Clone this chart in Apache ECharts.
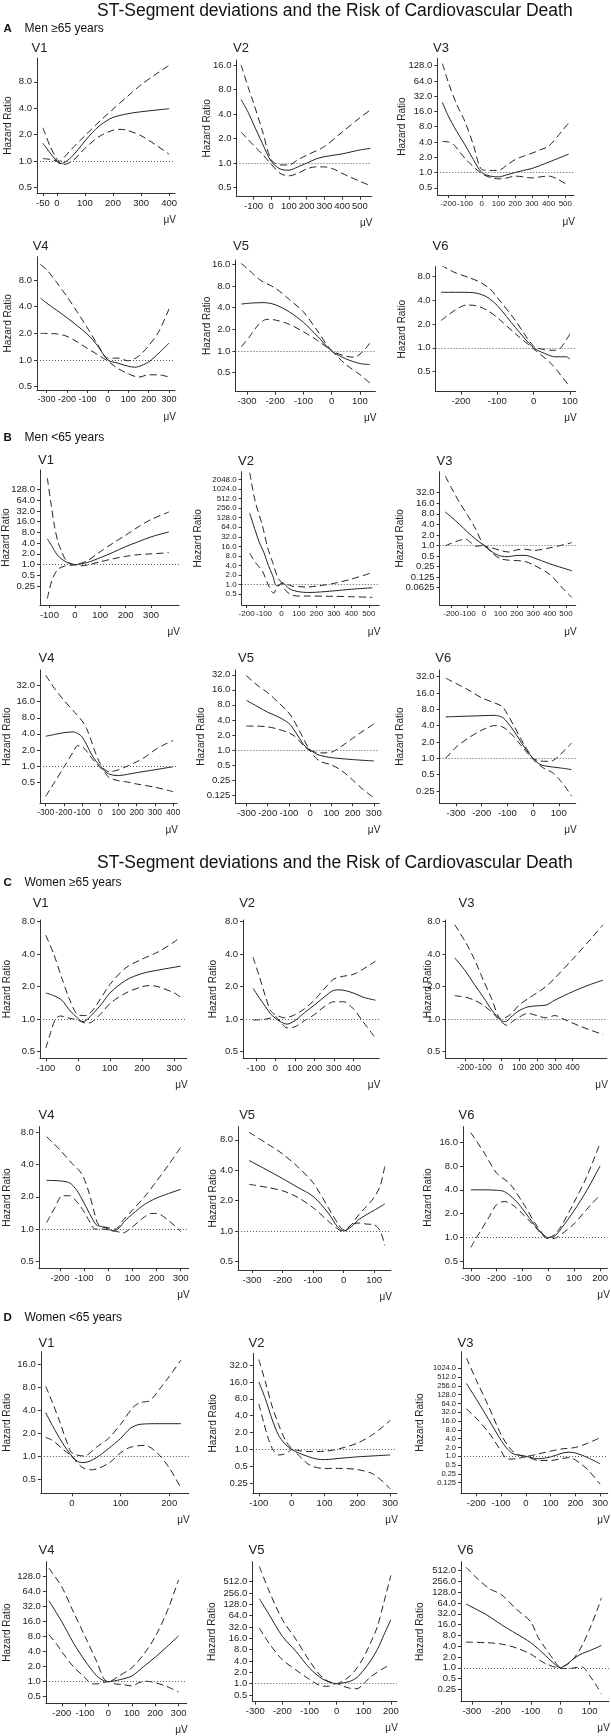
<!DOCTYPE html>
<html>
<head>
<meta charset="utf-8">
<script src="https://cdn.jsdelivr.net/npm/echarts@6/dist/echarts.min.js"></script>
<style>
  html, body { margin: 0; padding: 0; background: #fff; }
  #chart { width: 611px; height: 1736px; }
</style>
</head>
<body>
<div id="chart"></div>
<script>
// ---- data: [ST deviation (uV), hazard ratio] ----
// A  Men >=65
const a1Est = [[-50,1.6],[-25,1.25],[0,1.0],[10,0.94],[25,0.96],[50,1.1],[75,1.35],[100,1.7],[125,2.1],[150,2.5],[175,2.85],[200,3.15],[250,3.45],[300,3.65],[350,3.8],[400,3.95]];
const a1Lo  = [[-50,1.07],[-25,1.05],[0,1.0],[25,0.92],[50,0.98],[75,1.15],[100,1.4],[150,1.9],[200,2.25],[225,2.3],[250,2.25],[300,1.95],[350,1.55],[400,1.2]];
const a1Hi  = [[-50,2.4],[-25,1.5],[0,1.05],[10,1.0],[25,1.1],[50,1.35],[100,1.95],[150,2.8],[200,3.9],[250,5.4],[300,7.4],[350,9.6],[400,12.3]];
const a2Est = [[-170,6.0],[-130,4.2],[-100,3.0],[-50,1.75],[0,1.05],[50,0.85],[100,0.82],[150,0.9],[200,1.0],[250,1.12],[300,1.2],[400,1.3],[500,1.45],[560,1.52]];
const a2Lo  = [[-170,2.4],[-100,1.66],[-50,1.29],[0,0.97],[50,0.75],[100,0.7],[150,0.75],[200,0.85],[250,0.9],[300,0.9],[350,0.85],[400,0.75],[500,0.6],[560,0.53]];
const a2Hi  = [[-170,16],[-130,8.5],[-100,5.5],[-50,2.5],[0,1.1],[50,0.95],[100,0.95],[150,1.1],[200,1.25],[300,1.6],[400,2.4],[500,3.6],[560,4.5]];
const a3Est = [[-235,24],[-200,13],[-150,6.5],[-100,3.5],[-50,1.8],[0,1.0],[50,0.85],[100,0.82],[150,0.9],[200,1.0],[250,1.1],[300,1.2],[400,1.6],[520,2.3]];
const a3Lo  = [[-235,4.1],[-200,4.0],[-170,3.6],[-130,2.5],[-100,1.9],[-50,1.3],[0,0.95],[50,0.8],[100,0.75],[150,0.78],[200,0.85],[250,0.82],[300,0.78],[350,0.82],[400,0.85],[450,0.75],[520,0.55]];
const a3Hi  = [[-235,140],[-200,60],[-150,22],[-100,10],[-50,3.5],[0,1.15],[50,1.1],[100,1.1],[150,1.4],[200,1.8],[250,2.1],[300,2.4],[350,2.8],[400,3.3],[450,5],[520,9.5]];
const a4Est = [[-330,5.0],[-300,4.4],[-200,3.0],[-100,1.95],[-50,1.45],[0,1.0],[50,0.92],[100,0.85],[130,0.83],[150,0.84],[200,0.95],[250,1.2],[300,1.55]];
const a4Lo  = [[-330,2.0],[-250,1.97],[-200,1.85],[-150,1.6],[-100,1.35],[-50,1.15],[0,0.97],[50,0.8],[100,0.7],[150,0.64],[200,0.68],[250,0.68],[300,0.64]];
const a4Hi  = [[-330,12],[-300,10.5],[-250,7.5],[-200,5.2],[-150,3.5],[-100,2.3],[-50,1.5],[0,1.05],[50,1.05],[100,0.98],[150,1.1],[200,1.45],[250,2.1],[300,3.8]];
const a5Est = [[-320,4.5],[-280,4.65],[-240,4.7],[-200,4.4],[-150,3.5],[-100,2.5],[-50,1.6],[0,1.0],[50,0.78],[100,0.67],[135,0.65]];
const a5Lo  = [[-320,1.15],[-290,1.6],[-260,2.3],[-230,2.75],[-200,2.7],[-150,2.35],[-100,1.85],[-50,1.4],[0,1.0],[50,0.65],[100,0.47],[135,0.36]];
const a5Hi  = [[-320,16.5],[-280,12],[-250,9.5],[-200,7.5],[-150,5.2],[-100,3.5],[-50,1.9],[0,1.02],[50,0.85],[80,0.82],[110,0.98],[135,1.28]];
const a6Est = [[-255,5.0],[-200,5.0],[-160,4.9],[-130,4.4],[-100,3.4],[-50,1.8],[0,1.0],[30,0.85],[60,0.77],[90,0.77],[100,0.72]];
const a6Lo  = [[-255,2.2],[-220,2.9],[-185,3.45],[-160,3.4],[-130,3.0],[-100,2.4],[-50,1.5],[0,0.97],[50,0.62],[100,0.32]];
const a6Hi  = [[-255,11],[-220,9],[-180,7.7],[-150,6.8],[-120,5.5],[-100,4.3],[-50,2.2],[0,1.05],[30,0.95],[60,0.93],[75,1.0],[100,1.5]];
// B  Men <65
const b1Est = [[-108,5.3],[-90,3.3],[-70,1.9],[-50,1.4],[-25,1.1],[0,1.0],[50,1.15],[100,1.56],[150,2.2],[200,3.2],[250,4.4],[300,6.0],[370,8.3]];
const b1Lo  = [[-108,0.11],[-100,0.2],[-85,0.45],[-65,0.75],[-40,0.9],[0,0.97],[25,0.92],[50,0.97],[100,1.2],[150,1.45],[200,1.7],[250,1.9],[300,2.0],[370,2.15]];
const b1Hi  = [[-108,270],[-95,60],[-80,12],[-65,4.0],[-50,2.2],[-40,1.5],[-25,1.15],[0,1.0],[50,1.3],[100,2.3],[150,4.0],[200,6.7],[250,11.5],[300,18.5],[370,30]];
const b2Est = [[-182,175],[-150,50],[-125,20],[-100,10],[-75,4],[-50,1.9],[-30,0.95],[-15,0.95],[0,1.12],[15,1.05],[50,0.72],[100,0.6],[150,0.57],[200,0.58],[300,0.64],[400,0.72],[520,0.8]];
const b2Lo  = [[-182,9.8],[-150,5],[-110,2.7],[-75,0.95],[-55,0.6],[-45,0.54],[-30,0.75],[-10,1.0],[0,1.1],[20,0.7],[50,0.5],[90,0.44],[150,0.44],[300,0.43],[400,0.42],[520,0.4]];
const b2Hi  = [[-182,3300],[-150,400],[-110,74],[-80,15],[-50,4.9],[-20,1.6],[0,1.2],[30,1.05],[60,0.9],[100,0.87],[140,0.85],[200,0.9],[300,1.1],[400,1.5],[520,2.4]];
const b3Est = [[-236,9],[-200,6.5],[-150,4.0],[-100,2.4],[-50,1.5],[0,1.0],[50,0.65],[100,0.5],[150,0.48],[200,0.52],[250,0.52],[300,0.45],[400,0.3],[535,0.19]];
const b3Lo  = [[-236,0.98],[-200,1.15],[-150,1.4],[-110,1.5],[-80,1.2],[-50,0.95],[0,1.0],[50,0.6],[100,0.42],[150,0.38],[200,0.37],[250,0.35],[300,0.28],[400,0.15],[480,0.06],[535,0.033]];
const b3Hi  = [[-236,95],[-200,45],[-150,17],[-100,7.2],[-50,2.9],[-25,1.6],[0,1.0],[50,0.85],[100,0.72],[150,0.65],[200,0.75],[250,0.78],[300,0.72],[400,0.85],[535,1.2]];
const b4Est = [[-300,3.6],[-250,3.9],[-200,4.2],[-150,4.35],[-120,4.0],[-100,3.5],[-75,2.5],[-50,1.7],[-25,1.25],[0,1.0],[25,0.8],[50,0.7],[100,0.66],[150,0.7],[200,0.75],[300,0.85],[400,0.97]];
const b4Lo  = [[-300,0.27],[-250,0.5],[-200,0.95],[-150,1.8],[-125,2.4],[-100,2.3],[-75,1.9],[-50,1.45],[-25,1.15],[0,0.93],[25,0.75],[50,0.6],[100,0.53],[150,0.5],[200,0.46],[300,0.4],[400,0.33]];
const b4Hi  = [[-300,50],[-250,28],[-200,17],[-150,11],[-100,7],[-75,5],[-50,3],[-25,1.7],[0,1.1],[25,0.85],[50,0.78],[100,0.85],[150,1.0],[200,1.2],[250,1.5],[300,2.0],[350,2.5],[400,3.0]];
const b5Est = [[-300,9.8],[-250,7.5],[-200,5.7],[-150,4.6],[-100,3.4],[-75,2.5],[-50,1.7],[-25,1.2],[0,1.0],[25,0.85],[50,0.77],[100,0.7],[200,0.64],[300,0.6]];
const b5Lo  = [[-300,3.0],[-250,3.0],[-200,2.9],[-150,2.6],[-100,2.2],[-75,1.9],[-50,1.5],[-25,1.15],[0,0.95],[25,0.7],[50,0.58],[100,0.5],[150,0.38],[200,0.25],[250,0.16],[300,0.11]];
const b5Hi  = [[-300,31],[-250,20],[-200,14],[-150,9],[-100,5.5],[-75,3.8],[-50,2.4],[-25,1.5],[0,1.0],[50,0.87],[100,0.9],[150,1.2],[200,1.7],[250,2.4],[300,3.3]];
const b6Est = [[-340,5.8],[-300,5.9],[-250,6.0],[-200,6.1],[-150,6.2],[-120,5.7],[-100,4.6],[-75,3.2],[-50,2.1],[-25,1.4],[0,1.0],[25,0.78],[50,0.72],[100,0.67],[150,0.62]];
const b6Lo  = [[-340,1.0],[-300,1.6],[-250,2.4],[-200,3.3],[-150,4.0],[-125,3.9],[-100,3.3],[-75,2.5],[-50,1.8],[-25,1.3],[0,0.95],[25,0.75],[50,0.62],[75,0.55],[100,0.42],[125,0.3],[150,0.2]];
const b6Hi  = [[-340,30],[-300,24],[-250,18],[-200,13],[-150,10.5],[-120,9],[-100,6.5],[-75,4.0],[-50,2.4],[-25,1.5],[0,1.0],[25,0.9],[50,0.88],[75,0.9],[100,1.1],[125,1.45],[150,1.9]];
// C  Women >=65
const c1Est = [[-100,1.75],[-75,1.65],[-50,1.5],[-25,1.2],[0,1.02],[15,0.95],[25,0.97],[50,1.15],[75,1.4],[100,1.75],[150,2.3],[200,2.65],[250,2.85],[320,3.1]];
const c1Lo  = [[-100,0.54],[-85,0.75],[-70,1.0],[-55,1.07],[-25,1.02],[0,0.98],[25,0.92],[40,0.93],[75,1.15],[100,1.4],[150,1.75],[200,2.0],[225,2.05],[250,2.0],[300,1.75],[320,1.6]];
const c1Hi  = [[-100,6.0],[-75,4.0],[-50,2.4],[-25,1.5],[0,1.1],[25,1.08],[50,1.25],[100,2.1],[150,3.0],[200,3.6],[250,4.2],[300,5.2],[320,5.8]];
const c2Est = [[-115,1.93],[-80,1.55],[-50,1.3],[-25,1.12],[0,1.02],[25,0.95],[60,0.9],[100,0.97],[150,1.15],[200,1.35],[250,1.6],[300,1.85],[330,1.87],[400,1.75],[450,1.6],[514,1.5]];
const c2Lo  = [[-115,0.98],[-50,1.0],[0,1.05],[25,0.95],[60,0.83],[100,0.85],[150,0.97],[200,1.1],[250,1.3],[300,1.45],[350,1.45],[400,1.25],[450,0.95],[514,0.67]];
const c2Hi  = [[-115,3.75],[-80,2.4],[-50,1.6],[-25,1.2],[0,1.1],[50,1.03],[100,1.1],[150,1.25],[200,1.5],[250,1.9],[300,2.35],[350,2.5],[400,2.6],[450,2.9],[514,3.45]];
const c3Est = [[-260,3.7],[-200,2.8],[-150,2.1],[-100,1.6],[-50,1.2],[0,0.97],[25,0.95],[50,1.03],[100,1.2],[150,1.3],[200,1.33],[250,1.35],[300,1.5],[400,1.8],[500,2.1],[570,2.3]];
const c3Lo  = [[-260,1.65],[-200,1.6],[-150,1.5],[-100,1.35],[-50,1.15],[0,0.95],[30,0.88],[75,0.98],[150,1.13],[200,1.08],[250,1.03],[300,1.08],[350,1.0],[450,0.85],[570,0.72]];
const c3Hi  = [[-260,7.5],[-200,5.2],[-150,3.6],[-100,2.3],[-50,1.5],[-20,1.1],[0,1.0],[50,1.1],[100,1.35],[150,1.55],[200,1.75],[250,2.0],[300,2.4],[400,3.6],[500,5.5],[570,7.5]];
const c4Est = [[-255,2.85],[-200,2.82],[-160,2.7],[-130,2.3],[-100,1.75],[-70,1.3],[-50,1.1],[-25,1.05],[0,1.0],[20,0.96],[40,1.0],[70,1.2],[100,1.38],[150,1.7],[200,1.95],[250,2.15],[300,2.35]];
const c4Lo  = [[-255,1.15],[-220,1.6],[-190,2.05],[-160,2.05],[-130,1.8],[-100,1.45],[-75,1.15],[-55,1.0],[-25,1.0],[0,0.98],[35,0.95],[60,0.92],[100,1.05],[150,1.3],[180,1.4],[200,1.4],[250,1.2],[300,0.95]];
const c4Hi  = [[-255,7.3],[-200,5.5],[-150,4.1],[-110,3.3],[-80,2.2],[-60,1.5],[-40,1.1],[0,1.03],[30,1.0],[60,1.2],[100,1.5],[150,2.0],[200,2.8],[250,4.0],[300,5.8]];
const c5Est = [[-310,5.0],[-250,4.0],[-200,3.3],[-150,2.7],[-100,2.2],[-50,1.5],[-20,1.1],[0,1.0],[25,1.1],[50,1.3],[100,1.6],[135,1.85]];
const c5Lo  = [[-310,2.9],[-250,2.7],[-200,2.5],[-150,2.15],[-100,1.7],[-50,1.25],[-20,1.05],[0,0.98],[25,1.15],[50,1.2],[75,1.17],[100,1.15],[120,1.0],[135,0.72]];
const c5Hi  = [[-310,9.5],[-250,7.3],[-200,5.8],[-150,4.3],[-100,3.0],[-50,1.7],[-20,1.2],[0,1.03],[25,1.15],[50,1.45],[75,1.75],[100,2.15],[120,2.8],[135,4.4]];
const c6Est = [[-300,4.0],[-250,4.0],[-200,3.95],[-170,3.8],[-130,3.0],[-100,2.3],[-50,1.4],[-20,1.08],[0,1.0],[25,1.05],[50,1.3],[100,2.2],[150,4.0],[200,8.0]];
const c6Lo  = [[-300,0.75],[-270,1.1],[-230,1.8],[-200,2.6],[-170,2.85],[-140,2.6],[-100,2.0],[-50,1.35],[-20,1.05],[0,0.97],[25,0.98],[50,1.1],[100,1.5],[150,2.3],[200,3.45]];
const c6Hi  = [[-300,21],[-250,12],[-200,6.5],[-150,4.8],[-100,2.8],[-50,1.5],[-20,1.1],[0,1.0],[25,1.1],[50,1.4],[100,2.8],[150,6.0],[200,15.5]];
// D  Women <65
const d1Est = [[-54,3.7],[-40,2.5],[-20,1.5],[0,1.0],[15,0.83],[25,0.82],[50,0.95],[75,1.25],[100,1.7],[120,2.3],[140,2.6],[180,2.65],[224,2.65]];
const d1Lo  = [[-54,1.75],[-40,1.6],[-20,1.25],[0,0.98],[20,0.72],[40,0.66],[75,0.8],[100,1.1],[120,1.3],[150,1.38],[175,1.1],[200,0.7],[224,0.38]];
const d1Hi  = [[-54,8.2],[-40,5.0],[-25,2.8],[-10,1.5],[0,1.1],[25,1.0],[50,1.3],[75,1.7],[100,2.6],[125,4.3],[140,5.0],[160,5.3],[180,7.5],[200,11],[224,18]];
const d2Est = [[-100,16],[-80,8],[-60,3.5],[-40,1.8],[-20,1.25],[0,1.0],[25,0.85],[50,0.75],[75,0.68],[100,0.66],[150,0.7],[200,0.74],[250,0.77],[300,0.8]];
const d2Lo  = [[-100,6.5],[-85,3.0],[-70,1.5],[-55,0.95],[-40,0.8],[-25,0.82],[-10,0.9],[0,1.0],[25,0.75],[50,0.55],[75,0.48],[100,0.46],[150,0.46],[200,0.44],[250,0.36],[300,0.2]];
const d2Hi  = [[-100,40],[-80,16],[-60,6.0],[-40,2.8],[-20,1.5],[0,1.05],[25,0.95],[50,0.92],[100,0.93],[150,1.05],[200,1.3],[250,1.9],[300,3.3]];
const d3Est = [[-240,310],[-200,90],[-150,18],[-100,3.5],[-75,1.8],[-50,1.2],[0,1.0],[50,0.82],[100,0.95],[150,1.3],[175,1.38],[200,1.3],[250,0.9],[300,0.55]];
const d3Lo  = [[-240,42],[-200,20],[-150,6.5],[-100,1.5],[-80,0.85],[-60,0.8],[-30,0.85],[0,0.95],[50,0.72],[100,0.72],[150,0.85],[175,0.9],[200,0.75],[250,0.35],[300,0.11]];
const d3Hi  = [[-240,2300],[-200,400],[-150,50],[-100,5.5],[-75,2.5],[-50,1.4],[-25,1.1],[0,1.0],[50,1.2],[100,1.5],[150,1.8],[200,2.0],[250,2.8],[300,4.3]];
const d4Est = [[-255,42],[-200,16],[-150,6],[-100,2.6],[-50,1.3],[-20,1.05],[0,1.0],[50,1.1],[100,1.3],[150,2.0],[200,3.1],[250,5.0],[300,8.3]];
const d4Lo  = [[-255,8.8],[-220,5.5],[-200,4.0],[-150,2.0],[-100,1.2],[-75,0.92],[-50,0.9],[-25,0.95],[0,1.0],[30,0.9],[60,0.88],[100,0.82],[130,0.95],[165,1.02],[200,0.95],[250,0.8],[300,0.62]];
const d4Hi  = [[-255,190],[-200,80],[-150,25],[-100,8],[-50,2.5],[-20,1.15],[0,1.0],[50,1.35],[100,1.9],[150,3.5],[200,8],[250,25],[300,110]];
const d5Est = [[-285,180],[-250,70],[-200,18],[-150,7.2],[-100,2.6],[-50,1.3],[0,1.0],[25,1.05],[50,1.15],[75,1.45],[100,2.3],[125,4],[150,8],[175,20],[200,50]];
const d5Lo  = [[-285,30],[-250,12],[-200,4.3],[-150,2.3],[-100,1.3],[-50,0.85],[-30,0.85],[0,1.0],[25,0.85],[50,0.75],[75,0.73],[100,1.0],[125,1.5],[150,2.0],[175,2.6],[200,3.2]];
const d5Hi  = [[-285,1300],[-250,300],[-200,50],[-150,15],[-100,4.0],[-50,1.4],[0,1.0],[25,1.2],[50,1.6],[75,2.6],[100,5],[125,12],[150,32],[175,150],[200,750]];
const d6Est = [[-320,60],[-250,30],[-200,16],[-150,9],[-100,5],[-50,2.2],[-25,1.4],[0,1.0],[25,1.3],[50,1.9],[75,2.5],[100,3.0],[140,4.2]];
const d6Lo  = [[-320,5.2],[-250,5.0],[-200,4.6],[-150,3.6],[-100,2.4],[-50,1.3],[0,0.97],[25,0.95],[50,1.0],[75,1.05],[100,0.6],[125,0.3],[140,0.19]];
const d6Hi  = [[-320,640],[-280,300],[-240,160],[-200,110],[-150,44],[-100,19],[-75,7],[-50,3.5],[-25,1.8],[0,1.05],[25,1.25],[50,2.0],[75,4.3],[100,12],[125,40],[140,90]];

// ---- tick labels ----
const hr8    = [0.5, 1, 2, 4, 8];
const hr16   = [0.5, 1, 2, 4, 8, 16];
const hr128  = [0.5, 1, 2, 4, 8, 16, 32, 64, 128];
const hrB1   = [0.25, 0.5, 1, 2, 4, 8, 16, 32, 64, 128];
const hrB2   = [0.5, 1, 2, 4, 8, 16, 32, 64, 128, 256, 512, 1024, 2048];
const hrB3   = [0.0625, 0.125, 0.25, 0.5, 1, 2, 4, 8, 16, 32];
const hr32   = [0.5, 1, 2, 4, 8, 16, 32];
const hrB5   = [0.125, 0.25, 0.5, 1, 2, 4, 8, 16, 32];
const hrQ32  = [0.25, 0.5, 1, 2, 4, 8, 16, 32];
const hrD3   = [0.125, 0.25, 0.5, 1, 2, 4, 8, 16, 32, 64, 128, 256, 512, 1024];
const hr512  = [0.5, 1, 2, 4, 8, 16, 32, 64, 128, 256, 512];
const hrQ512 = [0.25, 0.5, 1, 2, 4, 8, 16, 32, 64, 128, 256, 512];

const uv50_400  = [-50, 0, 100, 200, 300, 400];
const uv100_500 = [-100, 0, 100, 200, 300, 400, 500];
const uv200_500 = [-200, -100, 0, 100, 200, 300, 400, 500];
const uv300_300 = [-300, -200, -100, 0, 100, 200, 300];
const uv300_100 = [-300, -200, -100, 0, 100];
const uv200_100 = [-200, -100, 0, 100];
const uv100_300 = [-100, 0, 100, 200, 300];
const uv300_400 = [-300, -200, -100, 0, 100, 200, 300, 400];
const uv100_400 = [-100, 0, 100, 200, 300, 400];
const uv200_400 = [-200, -100, 0, 100, 200, 300, 400];
const uv200_300 = [-200, -100, 0, 100, 200, 300];
const uv300_200 = [-300, -200, -100, 0, 100, 200];
const uv0_200   = [0, 100, 200];

// ---- panel layout: box = [left, top, right, bottom] in px, xf / yf = label font sizes ----
const panels = [
  { v:'V1', est:a1Est, lo:a1Lo, hi:a1Hi, xt:uv50_400,  yt:hr8,    box:[37,58,175,193],        xr:[-71,421],  yr:[0.435,14.9], tx:31.5, ty:48,     hx:8 },
  { v:'V2', est:a2Est, lo:a2Lo, hi:a2Hi, xt:uv100_500, yt:hr16,   box:[236.5,60,371.5,196.7], xr:[-196,566], yr:[0.388,18.4], tx:233,  ty:48,     hx:207 },
  { v:'V3', est:a3Est, lo:a3Lo, hi:a3Hi, xt:uv200_500, yt:hr128,  box:[437.3,58.3,574,195],   xr:[-266,552], yr:[0.36,179],   tx:433,  ty:48,     hx:402, xf:8 },
  { v:'V4', est:a4Est, lo:a4Lo, hi:a4Hi, xt:uv300_300, yt:hr8,    box:[37,256.7,175,390],     xr:[-347,329], yr:[0.458,14.7], tx:32.7, ty:246.7,  hx:8, xf:9 },
  { v:'V5', est:a5Est, lo:a5Lo, hi:a5Hi, xt:uv300_100, yt:hr16,   box:[235.4,260,375.4,391.7],xr:[-341,155], yr:[0.272,18.4], tx:233,  ty:246.7,  hx:207 },
  { v:'V6', est:a6Est, lo:a6Lo, hi:a6Hi, xt:uv200_100, yt:hr8,    box:[435.6,266.7,575.7,391.7],xr:[-270,116],yr:[0.28,10.5],  tx:432.6,ty:246.7,  hx:402 },
  { v:'V1', est:b1Est, lo:b1Lo, hi:b1Hi, xt:uv100_300, yt:hrB1,   box:[40,470,179,605],       xr:[-137,410], yr:[0.073,456],  tx:38,   ty:460,    hx:6 },
  { v:'V2', est:b2Est, lo:b2Lo, hi:b2Hi, xt:uv200_500, yt:hrB2,   box:[241.7,471.7,379.3,605],xr:[-228,560], yr:[0.23,3566],  tx:238,  ty:461.7,  hx:198, xf:8, yf:8 },
  { v:'V3', est:b3Est, lo:b3Lo, hi:b3Hi, xt:uv200_500, yt:hrB3,   box:[439.6,471.7,575.7,605],xr:[-271,559], yr:[0.02,127],   tx:436.5,ty:461.7,  hx:400, xf:8 },
  { v:'V4', est:b4Est, lo:b4Lo, hi:b4Hi, xt:uv300_400, yt:hr32,   box:[40,670,177,803.3],     xr:[-331,421], yr:[0.2,62.8],   tx:38.5, ty:658.3,  hx:7, xf:8.5 },
  { v:'V5', est:b5Est, lo:b5Lo, hi:b5Hi, xt:uv300_300, yt:hrB5,   box:[235.4,670,379.3,803.3],xr:[-352,326], yr:[0.085,40],   tx:238,  ty:658.3,  hx:201 },
  { v:'V6', est:b6Est, lo:b6Lo, hi:b6Hi, xt:uv300_100, yt:hrQ32,  box:[439.6,670,575.7,803.3],xr:[-364,166], yr:[0.148,42.5], tx:435.3,ty:658.3,  hx:400 },
  { v:'V1', est:c1Est, lo:c1Lo, hi:c1Hi, xt:uv100_300, yt:hr8,    box:[40,920,186.7,1058.3],  xr:[-118,339], yr:[0.434,8.3],  tx:32.7, ty:903.3,  hx:7 },
  { v:'V2', est:c2Est, lo:c2Lo, hi:c2Hi, xt:uv100_400, yt:hr8,    box:[243.1,920,379.3,1058.3],xr:[-166,534],yr:[0.434,8.3],  tx:239.2,ty:903.3,  hx:213.6 },
  { v:'V3', est:c3Est, lo:c3Lo, hi:c3Hi, xt:uv200_400, yt:hr8,    box:[445.4,920,606.8,1058.3],xr:[-312,591],yr:[0.434,8.3],  tx:458.6,ty:903.3,  hx:428.3, xf:8.5 },
  { v:'V4', est:c4Est, lo:c4Lo, hi:c4Hi, xt:uv200_300, yt:hr8,    box:[38.9,1126.7,188.7,1268.3],xr:[-287,333],yr:[0.43,9.05], tx:38.5, ty:1115,   hx:7 },
  { v:'V5', est:c5Est, lo:c5Lo, hi:c5Hi, xt:uv300_100, yt:hr8,    box:[238.1,1126.7,390.9,1270],xr:[-346,155],yr:[0.41,10.8],  tx:239.2,ty:1115,   hx:213.6 },
  { v:'V6', est:c6Est, lo:c6Lo, hi:c6Hi, xt:uv300_200, yt:hr16,   box:[463,1126.7,608.8,1268.3],xr:[-330,228],yr:[0.41,25],    tx:458.6,ty:1115,   hx:428.3 },
  { v:'V1', est:d1Est, lo:d1Lo, hi:d1Hi, xt:uv0_200,   yt:hr16,   box:[40.8,1351.7,188.7,1493.3],xr:[-64,240], yr:[0.325,23.2], tx:38.5, ty:1343.3, hx:7 },
  { v:'V2', est:d2Est, lo:d2Lo, hi:d2Hi, xt:uv100_300, yt:hrQ32,  box:[252.9,1353.3,396.8,1493.3],xr:[-118,320],yr:[0.166,51.7],tx:248.6,ty:1343.3, hx:213.6 },
  { v:'V3', est:d3Est, lo:d3Lo, hi:d3Hi, xt:uv200_300, yt:hrD3,   box:[461,1351.7,608.8,1493.3],xr:[-262,331],yr:[0.054,3800],  tx:457.5,ty:1343.3, hx:420, yf:7.5 },
  { v:'V4', est:d4Est, lo:d4Lo, hi:d4Hi, xt:uv200_300, yt:hr128,  box:[45.9,1561.7,186.7,1703.3],xr:[-268,335],yr:[0.368,256],  tx:38.5, ty:1550,   hx:7 },
  { v:'V5', est:d5Est, lo:d5Lo, hi:d5Hi, xt:uv300_200, yt:hr512,  box:[252.3,1561.7,396.8,1701.7],xr:[-311,222],yr:[0.33,1736], tx:248.6,ty:1550,   hx:212.7 },
  { v:'V6', est:d6Est, lo:d6Lo, hi:d6Hi, xt:uv300_100, yt:hrQ512, box:[461,1561.7,608.8,1701.7],xr:[-337,165],yr:[0.113,912],  tx:457.5,ty:1550,   hx:420 }
];

const SANS = "'Liberation Sans', Arial, sans-serif";
const INK = '#222';

function fmtHR(v) {
  const r = Math.round(v * 10000) / 10000;
  return r >= 0.5 ? r.toFixed(1) : String(r);
}

const grid = [], xAxis = [], yAxis = [], series = [];
const texts = [];

panels.forEach((p, i) => {
  const [l, t, r, b] = p.box;
  grid.push({ left: l, top: t, width: r - l, height: b - t });
  xAxis.push({
    type: 'value', gridIndex: i, min: p.xr[0], max: p.xr[1],
    axisLine: { onZero: false, lineStyle: { color: '#333', width: 1 } },
    axisTick: { customValues: p.xt, length: 3, lineStyle: { color: '#333' } },
    axisLabel: { customValues: p.xt, margin: 5, fontSize: p.xf || 9.5, color: INK, fontFamily: SANS,
                 showMinLabel: true, showMaxLabel: true },
    splitLine: { show: false }
  });
  yAxis.push({
    type: 'log', logBase: 2, gridIndex: i, min: p.yr[0], max: p.yr[1],
    axisLine: { show: true, onZero: false, lineStyle: { color: '#333', width: 1 } },
    axisTick: { show: true, customValues: p.yt, length: 3, lineStyle: { color: '#333' } },
    axisLabel: { customValues: p.yt, margin: 5, fontSize: p.yf || 9.5, color: INK, fontFamily: SANS,
                 formatter: fmtHR, showMinLabel: true, showMaxLabel: true },
    splitLine: { show: false }, minorTick: { show: false }
  });
  const base = { type: 'line', xAxisIndex: i, yAxisIndex: i, showSymbol: false, smooth: 0.3, silent: true };
  series.push(Object.assign({}, base, {
    data: p.est, lineStyle: { color: INK, width: 1 },
    markLine: {
      silent: true, symbol: 'none', label: { show: false },
      lineStyle: { type: [1, 2], color: '#555', width: 1 },
      data: [{ yAxis: 1 }]
    }
  }));
  series.push(Object.assign({}, base, { data: p.lo, lineStyle: { color: INK, width: 1, type: [7, 4] } }));
  series.push(Object.assign({}, base, { data: p.hi, lineStyle: { color: INK, width: 1, type: [7, 4] } }));

  texts.push({ type: 'text', x: p.tx, y: p.ty,
    style: { text: p.v, font: "13px " + SANS, fill: INK, verticalAlign: 'middle' } });
  texts.push({ type: 'text', x: p.hx, y: (t + b) / 2, rotation: Math.PI / 2,
    style: { text: 'Hazard Ratio', font: "10px " + SANS, fill: INK, align: 'center', verticalAlign: 'middle' } });
  texts.push({ type: 'text', x: r + 1, y: b + 27,
    style: { text: 'μV', font: "10px " + SANS, fill: INK, align: 'right', verticalAlign: 'middle' } });
});

const headings = [
  { y: 11, letter: 'A', label: 'Men ≥65 years', ly: 29 },
  { y: null, letter: 'B', label: 'Men <65 years', ly: 438 },
  { y: 863, letter: 'C', label: 'Women ≥65 years', ly: 883 },
  { y: null, letter: 'D', label: 'Women <65 years', ly: 1318 }
];
headings.forEach(h => {
  if (h.y !== null) {
    texts.push({ type: 'text', x: 97, y: h.y,
      style: { text: 'ST-Segment deviations and the Risk of Cardiovascular Death', font: "17.5px " + SANS, fill: '#111', verticalAlign: 'middle' } });
  }
  texts.push({ type: 'text', x: 3.5, y: h.ly, style: { text: h.letter, font: "bold 11.5px " + SANS, fill: '#111', verticalAlign: 'middle' } });
  texts.push({ type: 'text', x: 24.5, y: h.ly, style: { text: h.label, font: "12px " + SANS, fill: '#111', verticalAlign: 'middle' } });
});

const chart = echarts.init(document.getElementById('chart'));
chart.setOption({
  animation: false,
  backgroundColor: '#fff',
  grid: grid,
  xAxis: xAxis,
  yAxis: yAxis,
  series: series,
  graphic: { elements: texts }
});
</script>
</body>
</html>
